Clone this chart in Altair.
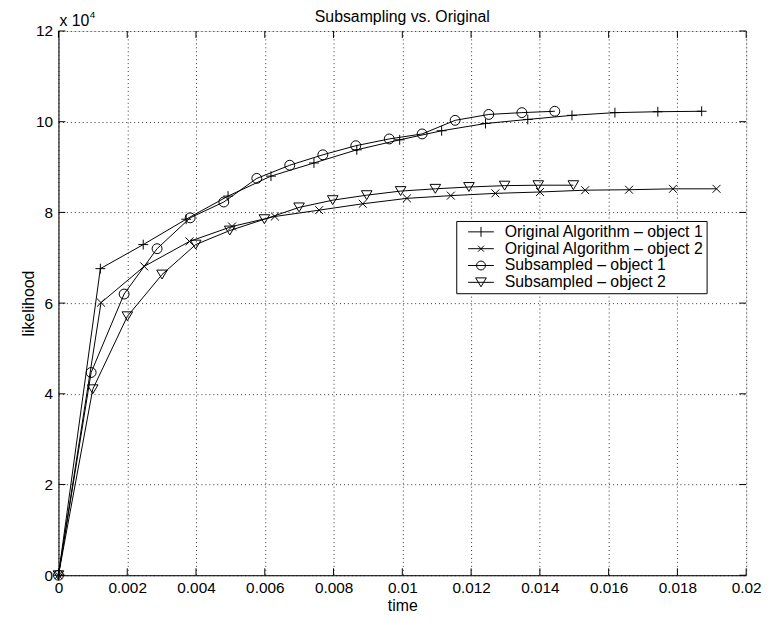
import altair as alt
import pandas as pd

# ---------------- data ----------------
series_names = [
    "Original Algorithm – object 1",
    "Original Algorithm – object 2",
    "Subsampled – object 1",
    "Subsampled – object 2",
]

orig1_t = [0, 0.001218, 0.002465, 0.003714, 0.004932, 0.00618, 0.00743, 0.008676,
           0.009923, 0.011143, 0.012419, 0.013648, 0.014933, 0.016182, 0.01743, 0.018705]
orig1_l = [0, 67600, 72900, 78500, 83600, 88000, 90900, 93800,
           96000, 98000, 99600, 100500, 101400, 102000, 102200, 102300]

orig2_t = [0, 0.001238, 0.002494, 0.00381, 0.005048, 0.006294, 0.007582, 0.008849,
           0.010135, 0.011411, 0.012707, 0.014003, 0.015319, 0.016594, 0.01787, 0.019137]
orig2_l = [0, 60100, 68100, 73600, 76900, 79100, 80500, 81900,
           83100, 83700, 84200, 84500, 84900, 85000, 85200, 85200]

sub1_t = [0, 0.00095, 0.001909, 0.002868, 0.00383, 0.004809, 0.005768, 0.006726,
          0.007688, 0.008647, 0.00962, 0.010576, 0.011535, 0.012514, 0.013476, 0.014434]
sub1_l = [0, 44700, 62000, 72000, 78800, 82300, 87500, 90400,
          92700, 94700, 96200, 97300, 100300, 101600, 102000, 102300]

sub2_t = [0, 0.000997, 0.002004, 0.003012, 0.003991, 0.004981, 0.005989, 0.006997,
          0.007976, 0.008964, 0.00995, 0.010959, 0.011938, 0.012975, 0.013954, 0.014973]
sub2_l = [0, 41000, 57100, 66300, 72900, 76000, 78500, 81100,
          82700, 83800, 84700, 85200, 85600, 85900, 86000, 86000]

x_ticks = [0, 0.002, 0.004, 0.006, 0.008, 0.01, 0.012, 0.014, 0.016, 0.018, 0.02]
y_ticks = [0, 20000, 40000, 60000, 80000, 100000, 120000]

title_text = "Subsampling vs. Original"
exp_text = "x 10"
exp_power = "4"

# ---------------- build table ----------------
rows = []
for name, ts, ls in zip(series_names,
                        [orig1_t, orig2_t, sub1_t, sub2_t],
                        [orig1_l, orig2_l, sub1_l, sub2_l]):
    for t, l in zip(ts, ls):
        rows.append({"series": name, "time": t, "likelihood": l})
df = pd.DataFrame(rows)

W, H = 695, 550
FONT = "Liberation Sans"
TICK_FS = 15.5
TEXT_FS = 16

xscale = alt.Scale(domain=[0, 0.02], nice=False, zero=False)
yscale = alt.Scale(domain=[0, 120000], nice=False)

marker_paths = [
    "M-1,0H1M0,-1V1",
    "M-0.8,-0.8L0.8,0.8M-0.8,0.8L0.8,-0.8",
    "circle",
    "M0,0.9L1.07,-0.9L-1.07,-0.9Z",
]
legend_paths = [
    "M-2.6,0H2.6M0,-1V1",
    "M-2.6,0H2.6M-0.6,-0.6L0.6,0.6M-0.6,0.6L0.6,-0.6",
    "M-2.6,0H2.6M0.9,0A0.9,0.9,0,1,1,-0.9,0A0.9,0.9,0,1,1,0.9,0",
    "M-2.6,0H2.6M0,0.9L1.07,-0.9L-1.07,-0.9Z",
]

x_axis = alt.Axis(values=x_ticks, format="~g", title="time", grid=True,
                  gridColor="black", gridDash=[1, 3], gridOpacity=0.8,
                  ticks=False, tickSize=0, labelPadding=5, labelFontSize=TICK_FS,
                  titleFontSize=TEXT_FS, titleFontWeight="normal", titlePadding=2,
                  domainColor="black", labelColor="black", titleColor="black",
                  labelFont=FONT, titleFont=FONT, labelFlush=False)
y_axis = alt.Axis(values=y_ticks, labelExpr="format(datum.value/10000, '~g')",
                  title="likelihood", grid=True,
                  gridColor="black", gridDash=[1, 3], gridOpacity=0.8,
                  ticks=False, tickSize=0, labelPadding=6, labelFontSize=TICK_FS,
                  titleFontSize=TEXT_FS, titleFontWeight="normal", titlePadding=-1,
                  domainColor="black", labelColor="black", titleColor="black",
                  labelFont=FONT, titleFont=FONT, labelFlush=False)

X = alt.X("time:Q", scale=xscale, axis=x_axis)
Y = alt.Y("likelihood:Q", scale=yscale, axis=y_axis)

lines = alt.Chart(df).mark_line(color="black", strokeWidth=1).encode(
    x=X, y=Y, detail="series:N",
)

points = alt.Chart(df).mark_point(filled=False, color="black", size=100,
                                  strokeWidth=1, opacity=1).encode(
    x=X, y=Y,
    shape=alt.Shape("series:N", scale=alt.Scale(domain=series_names, range=marker_paths),
                    legend=None),
)

legend_layer = alt.Chart(df).mark_point(filled=False, color="black", size=100,
                                        strokeWidth=1, opacity=0).encode(
    x=X, y=Y,
    shape=alt.Shape("series:N",
                    scale=alt.Scale(domain=series_names, range=legend_paths),
                    legend=alt.Legend(title=None, orient="none", legendX=402, legendY=192,
                                      padding=3, rowPadding=1, symbolOffset=14,
                                      labelOffset=16, symbolSize=100,
                                      symbolStrokeColor="black", symbolStrokeWidth=1,
                                      symbolFillColor="transparent",
                                      strokeColor="black", fillColor="white",
                                      labelFontSize=TEXT_FS, labelFont=FONT,
                                      labelColor="black", labelLimit=400)),
)

xt = pd.DataFrame({"time": x_ticks})
yt = pd.DataFrame({"likelihood": y_ticks})
tick_len = 7
x_bottom = alt.Chart(xt).mark_rule(color="black", strokeWidth=1).encode(
    x=X, y=alt.value(H), y2=alt.value(H - tick_len))
x_top = alt.Chart(xt).mark_rule(color="black", strokeWidth=1).encode(
    x=X, y=alt.value(0), y2=alt.value(tick_len))
y_left = alt.Chart(yt).mark_rule(color="black", strokeWidth=1).encode(
    y=Y, x=alt.value(0), x2=alt.value(tick_len))
y_right = alt.Chart(yt).mark_rule(color="black", strokeWidth=1).encode(
    y=Y, x=alt.value(W), x2=alt.value(W - tick_len))

title_layer = alt.Chart(pd.DataFrame({"s": [title_text]})).mark_text(
    align="center", baseline="alphabetic", fontSize=TEXT_FS, font=FONT, color="black").encode(
    text="s:N", x=alt.value(W / 2), y=alt.value(-9))
exp_base = alt.Chart(pd.DataFrame({"s": [exp_text]})).mark_text(
    align="left", baseline="alphabetic", fontSize=TEXT_FS, font=FONT, color="black").encode(
    text="s:N", x=alt.value(1), y=alt.value(-5.5))
exp_pow = alt.Chart(pd.DataFrame({"s": [exp_power]})).mark_text(
    align="left", baseline="alphabetic", fontSize=10, font=FONT, color="black").encode(
    text="s:N", x=alt.value(31.5), y=alt.value(-13))

chart = alt.layer(
    lines, points, legend_layer, x_bottom, x_top, y_left, y_right,
    title_layer, exp_base, exp_pow
).resolve_scale(shape="independent").properties(
    width=W, height=H,
    autosize=alt.AutoSizeParams(type="none"),
    padding={"left": 51, "top": 20, "right": 18, "bottom": 42},
).configure_view(stroke="black", strokeWidth=1).configure(background="white")

chart.save("out.html", embed_options={"renderer": "svg", "actions": False})
